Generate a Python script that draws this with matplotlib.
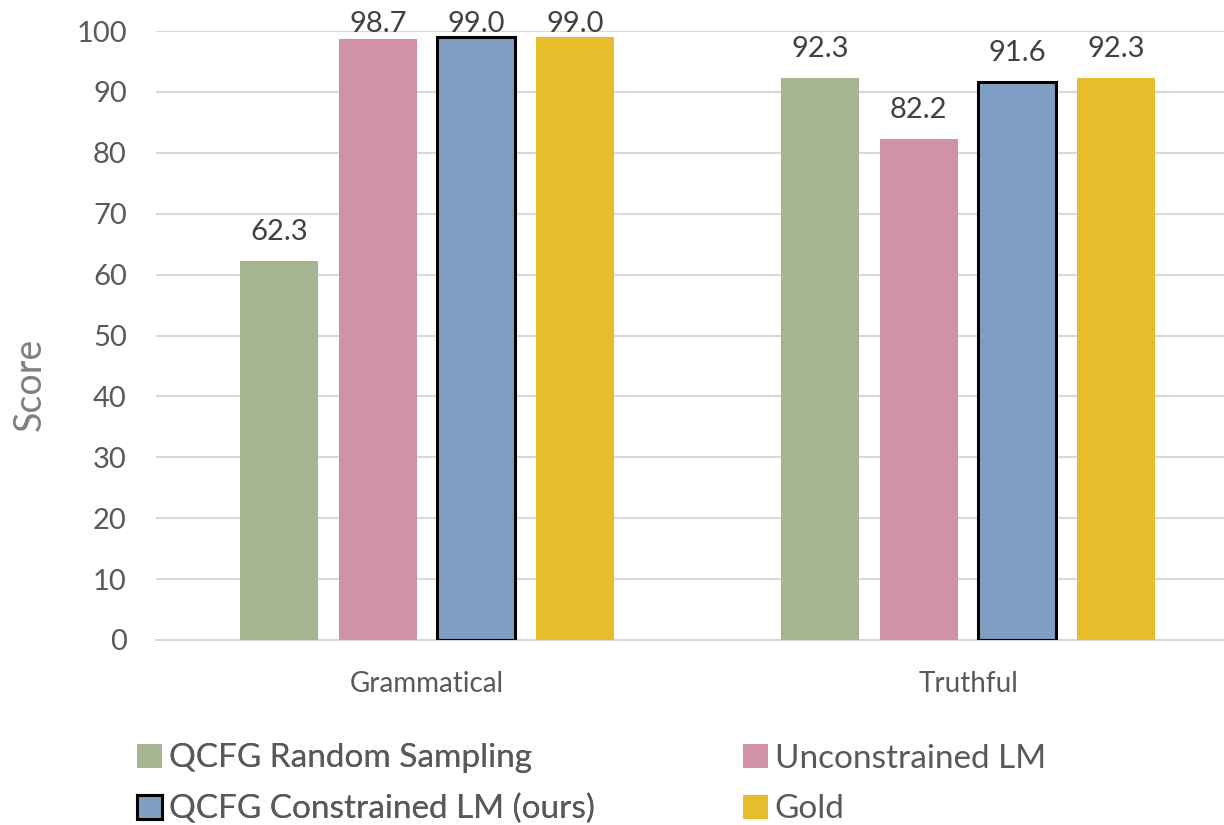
import matplotlib
matplotlib.use("Agg")
import matplotlib.pyplot as plt
import numpy as np

plt.rcParams['font.family'] = ['Lato', 'DejaVu Sans']

categories = ["Grammatical", "Truthful"]
series = ["QCFG Random Sampling", "Unconstrained LM", "QCFG Constrained LM (ours)", "Gold"]
values = [
    [62.3, 92.3],
    [98.7, 82.2],
    [99.0, 91.6],
    [99.0, 92.3],
]
colors = ["#A5B592", "#D092A7", "#809EC2", "#E6BD2A"]
edges = [None, None, "black", None]

W, H = 1224, 825
fig = plt.figure(figsize=(W / 100, H / 100), dpi=100)
ax = fig.add_axes([156 / W, 1 - 640 / H, (W - 156) / W, 609 / H])

x = np.arange(len(categories))
w = 0.144
step = 0.182
ax.set_ylim(0, 100)
ax.set_xlim(-0.501, 1.473)

handles = []
for i, (name, vals) in enumerate(zip(series, values)):
    off = (i - 1.5) * step
    if edges[i]:
        b = ax.bar(x + off, vals, w, color=colors[i], edgecolor=edges[i], linewidth=2.2, label=name, zorder=3)
    else:
        b = ax.bar(x + off, vals, w, color=colors[i], label=name, zorder=3)
    handles.append(b)
    for xi, v in zip(x + off, vals):
        # label sits ~21px above the bar, but kept inside the chart area like excel does
        top = ax.transData.transform((xi, v))[1]
        base = min(top + 21, H - 32)
        ax.annotate(f"{v:.1f}", (xi, v), xytext=(0, (base - top) * 0.72), textcoords="offset points",
                    ha="center", va="baseline", fontsize=21, color="#404040", annotation_clip=False)

ax.set_yticks(range(0, 101, 10))
ax.set_xticks(x)
ax.set_xticklabels(categories, fontsize=20)
ax.yaxis.grid(True, color="#D9D9D9", linewidth=1.5, zorder=0)
ax.set_axisbelow(True)
for s in ["top", "right", "left"]:
    ax.spines[s].set_visible(False)
ax.spines["bottom"].set_color("#D9D9D9")
ax.spines["bottom"].set_linewidth(1.5)
ax.tick_params(axis="both", length=0, labelcolor="#595959")
ax.tick_params(axis="y", pad=21, labelsize=21)
ax.tick_params(axis="x", pad=22)
fig.text(30 / W, 1 - 384 / H, "Score", rotation=90, ha="center", va="center",
         fontsize=27, color="#808080")

leg_kw = dict(loc="center left", frameon=False, fontsize=24, labelcolor="#595959",
              handlelength=0.75, handleheight=0.75, handletextpad=0.2, labelspacing=0.62,
              borderpad=0, borderaxespad=0)
leg1 = fig.legend(handles=[handles[0], handles[2]], labels=[series[0], series[2]],
                  bbox_to_anchor=(137 / W, 1 - 784 / H), **leg_kw)
fig.add_artist(leg1)
fig.legend(handles=[handles[1], handles[3]], labels=[series[1], series[3]],
           bbox_to_anchor=(743 / W, 1 - 784 / H), **leg_kw)

fig.savefig("out.png", dpi=100)
